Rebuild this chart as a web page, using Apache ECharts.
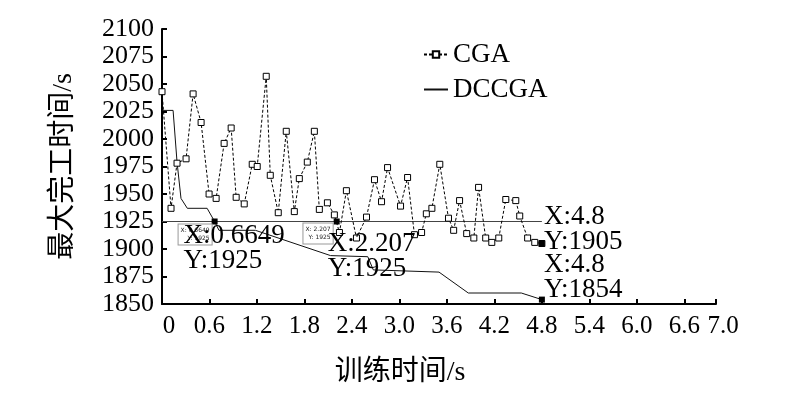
<!DOCTYPE html>
<html>
<head>
<meta charset="utf-8">
<script src="https://cdn.jsdelivr.net/npm/echarts@6/dist/echarts.min.js"></script>
<style>
  html, body { margin: 0; padding: 0; background: #fff; }
  #chart { width: 800px; height: 400px; }
</style>
</head>
<body>
<div id="chart"></div>
<script>
var serif = '"Liberation Serif", "Noto Sans CJK SC", serif';

// CGA run (dashed, hollow squares)
var cgaX = [0, 0.114, 0.19, 0.304, 0.393, 0.494, 0.595, 0.684, 0.785, 0.874, 0.937, 1.039, 1.14, 1.203,
    1.317, 1.368, 1.469, 1.57, 1.672, 1.735, 1.836, 1.925, 1.988, 2.09, 2.178, 2.242, 2.33, 2.457, 2.584,
    2.685, 2.774, 2.85, 3.014, 3.103, 3.19, 3.28, 3.34, 3.41, 3.51, 3.62, 3.685, 3.76, 3.85, 3.94, 4.0,
    4.09, 4.167, 4.255, 4.344, 4.47, 4.52, 4.62, 4.71, 4.8];
var cgaY = [2043, 1937, 1978, 1982, 2041, 2015, 1950, 1946, 1996, 2010, 1947, 1941, 1977, 1975,
    2057, 1967, 1933, 2007, 1934, 1964, 1979, 2007, 1936, 1942, 1931, 1915, 1953, 1910, 1929,
    1963, 1943, 1974, 1939, 1965, 1913, 1915, 1932, 1937, 1977, 1928, 1917, 1944, 1914, 1910, 1956,
    1910, 1906, 1910, 1945, 1944, 1930, 1910, 1906, 1905];

// DCCGA run (solid)
var dcX = [0, 0.14, 0.19, 0.24, 0.32, 0.57, 0.6649, 0.72, 1.18, 2.13, 2.6, 2.67, 3.5, 3.87, 4.54, 4.8];
var dcY = [2026, 2026, 1979, 1946, 1937, 1937, 1925, 1917, 1917, 1894, 1893, 1881, 1879, 1860, 1860, 1854];

// flat line at 1925
var refX = [0, 4.8];
var refY = [1925, 1925];

var yTicks = { min: 1850, max: 2100, step: 25 };
var xTicks = { min: 0, max: 7, step: 0.6 };

function pairs(xs, ys) {
    return xs.map(function (x, i) { return [x, ys[i]]; });
}

// big data tips
function tip(x, y, dx, dy) {
    return {
        coord: [x, y],
        symbol: 'rect', symbolSize: 6,
        itemStyle: { color: '#000' },
        label: {
            show: true, position: 'inside', align: 'left', verticalAlign: 'top',
            offset: [dx, dy],
            formatter: 'X:' + x + '\nY:' + y,
            fontFamily: serif, fontSize: 27, lineHeight: 25, color: '#000'
        }
    };
}
// small boxed tips
function smallTip(x, y, dx, dy) {
    return {
        coord: [x, y],
        symbol: 'rect', symbolSize: 1,
        itemStyle: { color: 'transparent' },
        label: {
            show: true, position: 'inside', align: 'right', verticalAlign: 'top',
            offset: [dx, dy],
            formatter: 'X: ' + x + '\nY: ' + y,
            fontFamily: 'DejaVu Sans', fontSize: 6, lineHeight: 8, color: '#222',
            backgroundColor: '#fff', borderColor: '#999', borderWidth: 1, padding: [2, 2]
        }
    };
}

var chart = echarts.init(document.getElementById('chart'));

var option = {
    animation: false,
    grid: { left: 162, right: 84, top: 29, bottom: 96 },
    legend: {
        data: [
            { name: 'CGA' },
            { name: 'DCCGA', itemStyle: { opacity: 0 } }
        ],
        orient: 'vertical',
        left: 418, top: 36,
        itemWidth: 24, itemHeight: 8, itemGap: 8,
        textStyle: { fontFamily: serif, fontSize: 27, color: '#000' }
    },
    xAxis: {
        type: 'value',
        min: xTicks.min, max: xTicks.max, interval: xTicks.step,
        name: '训练时间/s',
        nameLocation: 'middle', nameGap: 55,
        nameTextStyle: { fontFamily: serif, fontSize: 28, color: '#000', padding: [0, 78, 0, 0] },
        axisLine: { lineStyle: { color: '#000', width: 2 } },
        axisTick: { inside: true, length: 5, lineStyle: { color: '#000', width: 2 } },
        axisLabel: {
            fontFamily: serif, fontSize: 25, color: '#000', margin: 10, showMaxLabel: true,
            formatter: function (v) {
                if (v === 0) return '{p|0}';
                if (v === xTicks.max) return '{p|' + v.toFixed(1) + '}';
                return v.toFixed(1);
            },
            rich: {
                p: { fontFamily: serif, fontSize: 25, color: '#000', padding: [0, 0, 0, 14] }
            }
        },
        splitLine: { show: false }
    },
    yAxis: {
        type: 'value',
        min: yTicks.min, max: yTicks.max, interval: yTicks.step,
        name: '最大完工时间/s',
        nameLocation: 'middle', nameGap: 84,
        nameTextStyle: { fontFamily: serif, fontSize: 28, color: '#000' },
        axisLine: { show: true, lineStyle: { color: '#000', width: 2 } },
        axisTick: { show: true, inside: true, length: 5, lineStyle: { color: '#000', width: 2 } },
        axisLabel: {
            fontFamily: serif, fontSize: 26, color: '#000', margin: 8,
            formatter: function (v) { return String(v); }
        },
        splitLine: { show: false }
    },
    series: [
        {
            name: 'ref', type: 'line',
            data: pairs(refX, refY),
            symbol: 'none',
            lineStyle: { color: '#444', width: 1 },
            markPoint: {
                data: [
                    smallTip(0.6649, 1925, -3, 3),
                    smallTip(2.207, 1925, -4, 2),
                    tip(0.6649, 1925, -31, 2),
                    tip(2.207, 1925, -9, 10)
                ]
            }
        },
        {
            name: 'DCCGA', type: 'line',
            data: pairs(dcX, dcY),
            symbol: 'none',
            itemStyle: { color: '#000' },
            lineStyle: { color: '#111', width: 1 },
            markPoint: { data: [tip(4.8, 1854, 2, -47)] }
        },
        {
            name: 'CGA', type: 'line',
            data: pairs(cgaX, cgaY),
            symbol: 'rect', symbolSize: 6, showAllSymbol: true,
            itemStyle: { color: '#fff', borderColor: '#000', borderWidth: 1 },
            lineStyle: { color: '#000', width: 1, type: [3, 2] },
            markPoint: { data: [tip(4.8, 1905, 2, -39)] }
        }
    ]
};

chart.setOption(option);

window.onresize = function () {
    chart.resize();
};
</script>
</body>
</html>
